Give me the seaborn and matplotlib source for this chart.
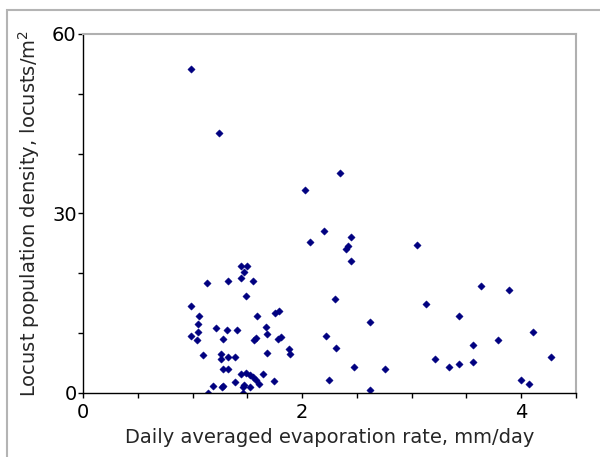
import numpy as np
import pandas as pd
import seaborn as sns
import matplotlib.pyplot as plt
from matplotlib.patches import Rectangle

# evaporation rate (mm/day) vs locust density (locusts/m2)
evap = [0.99, 1.24, 2.03, 2.35, 2.20, 2.07, 2.45, 2.42, 2.40, 2.45, 3.05, 2.30, 2.62,
        2.22, 2.31, 2.47, 2.25, 2.62, 2.76, 3.13, 3.63, 3.89, 3.43, 3.21, 3.34, 3.43,
        3.56, 3.56, 3.79, 4.11, 4.27, 4.00, 4.07,
        1.44, 1.50, 1.47, 1.13, 1.32, 1.44, 1.55, 1.49, 0.99, 1.06, 1.05, 1.05, 0.99,
        1.04, 1.10, 1.21, 1.31, 1.41, 1.28, 1.59, 1.67, 1.68, 1.75, 1.79, 1.56, 1.58,
        1.78, 1.81, 1.68, 1.88, 1.89, 1.26, 1.26, 1.32, 1.39, 1.28, 1.32, 1.44, 1.49,
        1.52, 1.55, 1.58, 1.61, 1.64, 1.74, 1.39, 1.28, 1.27, 1.19, 1.14, 1.46, 1.52,
        1.46, 1.47]
density = [54.1, 43.4, 33.9, 36.7, 27.0, 25.2, 26.1, 24.5, 24.1, 22.0, 24.7, 15.7, 11.9,
           9.4, 7.5, 4.3, 2.1, 0.45, 4.0, 14.8, 17.8, 17.1, 12.9, 5.6, 4.3, 4.8,
           8.0, 5.2, 8.8, 10.2, 5.9, 2.1, 1.5,
           21.2, 21.2, 20.2, 18.3, 18.6, 19.1, 18.6, 16.2, 14.5, 12.8, 11.5, 10.2, 9.4,
           8.8, 6.3, 10.9, 10.5, 10.5, 8.9, 12.8, 11.0, 9.9, 13.4, 13.7, 8.8, 9.1,
           8.9, 9.3, 6.6, 7.3, 6.5, 6.4, 5.6, 5.9, 6.0, 4.0, 4.0, 3.1, 3.3,
           3.0, 2.7, 2.1, 1.5, 3.1, 2.0, 1.8, 1.1, 0.9, 1.1, 0.0, 1.0, 0.9,
           0.0, 1.3]

x_ticks = np.arange(0, 4.51, 0.5)
x_labels = ["0", "", "", "", "2", "", "", "", "4", ""]
y_ticks = np.arange(0, 61, 10)
y_labels = ["0", "", "", "30", "", "", "60"]

df = pd.DataFrame({"evap": evap, "density": density})

sns.set_style("ticks")
plt.rcParams["font.family"] = ["DejaVu Sans"]

fig = plt.figure(figsize=(6, 4.57), dpi=100)
ax = fig.add_axes([0.1383, 0.1407, 0.8217, 0.785])

# outer frame, clipped at right and bottom like the source
fig.patches.append(Rectangle((7 / 600, -0.05), 1.1, 1 - 10 / 457 + 0.05,
                             transform=fig.transFigure, fill=False,
                             edgecolor="#b4b4b4", linewidth=1.5, zorder=0))

sns.scatterplot(data=df, x="evap", y="density", ax=ax, marker="D", s=14,
                color="#000080", edgecolor="#000080", linewidth=0.3, legend=False)

ax.set_xlim(0, 4.5)
ax.set_ylim(0, 60)
ax.set_xticks(x_ticks)
ax.set_xticklabels(x_labels)
ax.set_yticks(y_ticks)
ax.set_yticklabels(y_labels)
ax.tick_params(axis="both", direction="out", length=3.5, width=1, colors="black",
               labelsize=14)
ax.tick_params(axis="x", pad=4)
ax.tick_params(axis="y", pad=1)

for side in ["left", "bottom"]:
    ax.spines[side].set_color("black")
    ax.spines[side].set_linewidth(1)
for side in ["top", "right"]:
    ax.spines[side].set_visible(True)
    ax.spines[side].set_color("#b0b0b0")
    ax.spines[side].set_linewidth(1.5)

ax.set_xlabel("Daily averaged evaporation rate, mm/day", fontsize=14, labelpad=4)
ax.set_ylabel("Locust population density, locusts/m$^2$", fontsize=14, labelpad=7)

fig.savefig("out.png", dpi=100)
